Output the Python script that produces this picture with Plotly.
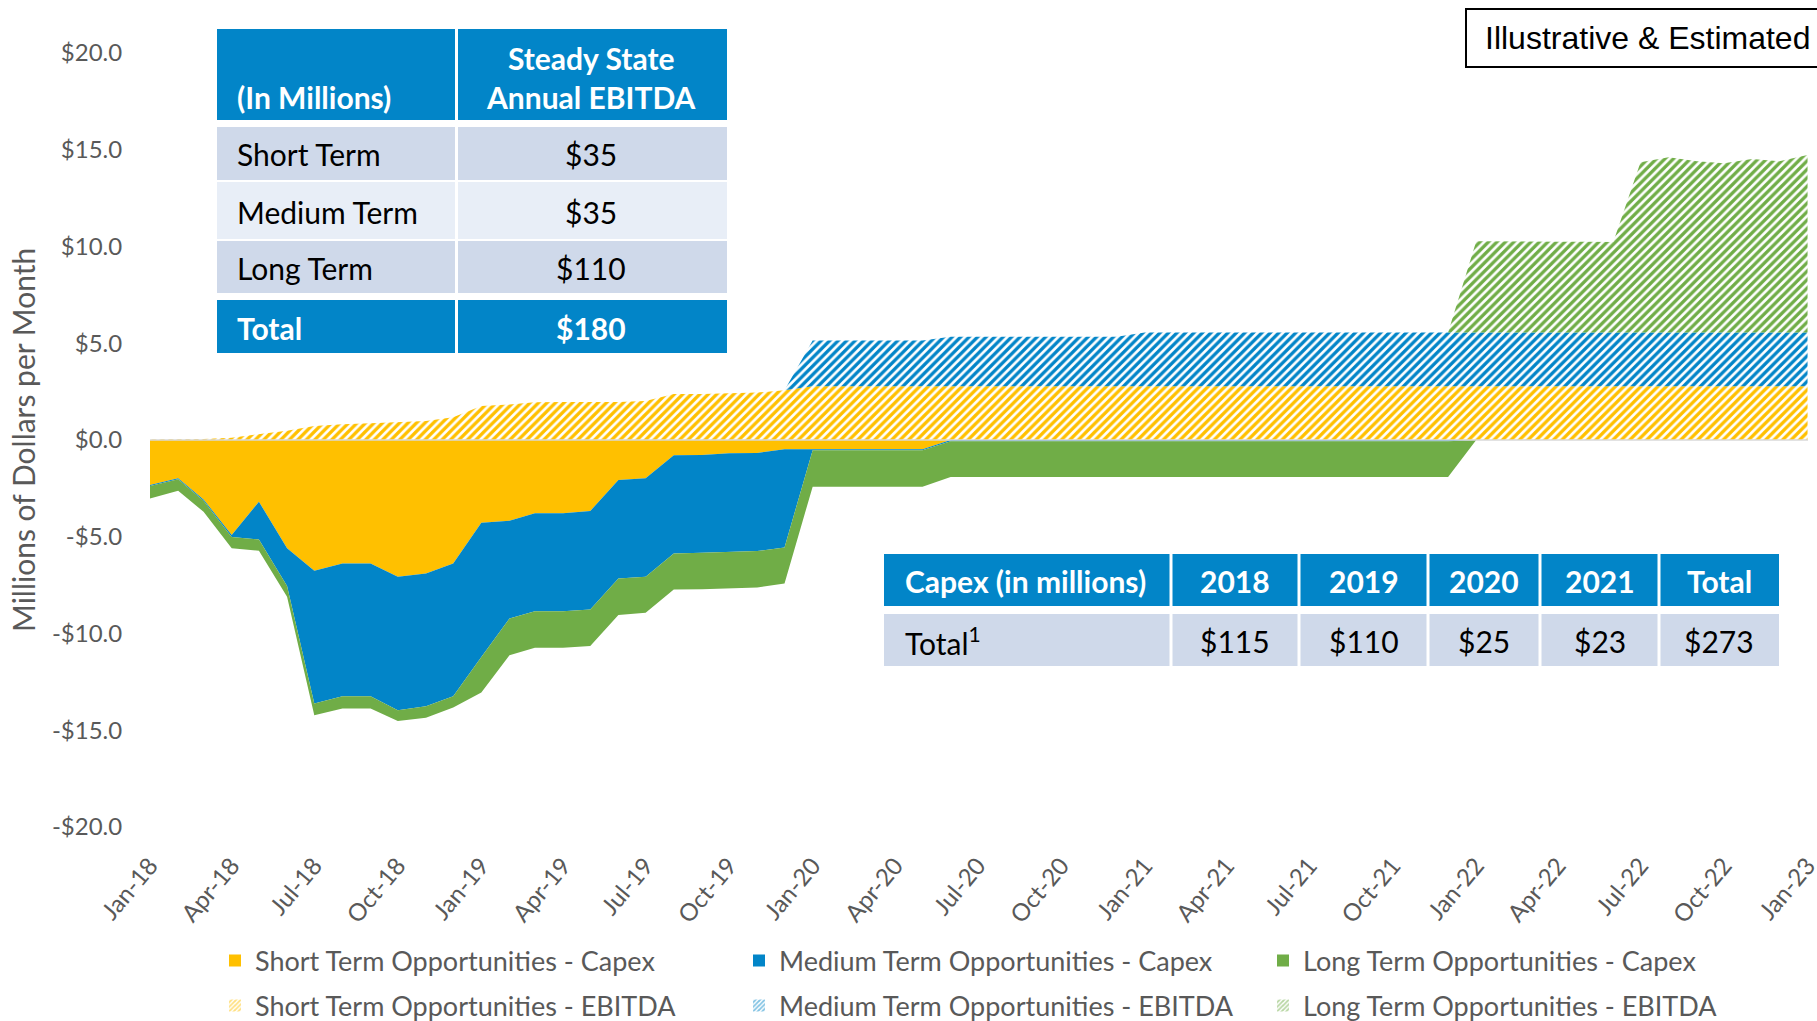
import plotly.graph_objects as go
import pandas as pd

# ---------------- data ----------------
months = pd.date_range("2018-01-01", "2023-01-01", freq="MS")  # 61 monthly points

short_capex = [2.33, 1.98, 3.07, 4.91, 3.19, 5.60, 6.76, 6.38, 6.38, 7.07, 6.90, 6.38,
               4.28, 4.17, 3.79, 3.78, 3.67, 2.07, 1.98, 0.79, 0.78, 0.69, 0.67, 0.48,
               0.48, 0.48, 0.48, 0.48, 0.48, 0.00, 0.00, 0.00, 0.00, 0.00, 0.00, 0.00,
               0.00, 0.00, 0.00, 0.00, 0.00, 0.00, 0.00, 0.00, 0.00, 0.00, 0.00, 0.00,
               0.00, 0.00, 0.00, 0.00, 0.00, 0.00, 0.00, 0.00, 0.00, 0.00, 0.00, 0.00, 0.00]
medium_capex = [0.05, 0.05, 0.07, 0.10, 1.95, 1.95, 6.86, 6.86, 6.86, 6.90, 6.86, 6.86,
                6.93, 5.06, 5.06, 5.07, 5.09, 5.09, 5.09, 5.07, 5.05, 5.09, 5.07, 5.07,
                0.05, 0.05, 0.05, 0.05, 0.05, 0.07, 0.07, 0.07, 0.07, 0.07, 0.07, 0.07,
                0.07, 0.07, 0.07, 0.07, 0.07, 0.07, 0.07, 0.07, 0.07, 0.07, 0.07, 0.07,
                0.00, 0.00, 0.00, 0.00, 0.00, 0.00, 0.00, 0.00, 0.00, 0.00, 0.00, 0.00, 0.00]
long_capex = [0.64, 0.59, 0.57, 0.59, 0.58, 0.55, 0.61, 0.64, 0.64, 0.55, 0.59, 0.59,
              1.84, 1.89, 1.89, 1.89, 1.88, 1.89, 1.86, 1.86, 1.88, 1.88, 1.88, 1.86,
              1.88, 1.88, 1.88, 1.88, 1.88, 1.84, 1.84, 1.84, 1.84, 1.84, 1.84, 1.84,
              1.84, 1.84, 1.84, 1.84, 1.84, 1.84, 1.84, 1.84, 1.84, 1.84, 1.84, 1.84,
              0.00, 0.00, 0.00, 0.00, 0.00, 0.00, 0.00, 0.00, 0.00, 0.00, 0.00, 0.00, 0.00]

short_ebitda = [0.03, 0.03, 0.05, 0.12, 0.31, 0.48, 0.72, 0.81, 0.86, 0.91, 0.98, 1.17,
                1.76, 1.84, 1.95, 1.97, 1.97, 1.97, 2.02, 2.38, 2.38, 2.40, 2.45, 2.57,
                2.78, 2.78, 2.78, 2.78, 2.78, 2.78, 2.78, 2.78, 2.78, 2.78, 2.78, 2.78,
                2.78, 2.78, 2.78, 2.78, 2.78, 2.78, 2.78, 2.78, 2.78, 2.78, 2.78, 2.78,
                2.78, 2.78, 2.78, 2.78, 2.78, 2.78, 2.78, 2.78, 2.78, 2.78, 2.78, 2.78, 2.78]
medium_ebitda = [0.00, 0.00, 0.00, 0.00, 0.00, 0.00, 0.00, 0.00, 0.00, 0.00, 0.00, 0.00,
                 0.00, 0.00, 0.00, 0.00, 0.00, 0.00, 0.00, 0.00, 0.00, 0.00, 0.00, 0.00,
                 2.36, 2.36, 2.36, 2.36, 2.36, 2.56, 2.56, 2.56, 2.56, 2.56, 2.56, 2.56,
                 2.77, 2.77, 2.77, 2.77, 2.77, 2.77, 2.77, 2.77, 2.77, 2.77, 2.77, 2.77,
                 2.77, 2.77, 2.77, 2.77, 2.77, 2.77, 2.77, 2.77, 2.77, 2.77, 2.77, 2.77, 2.77]
long_ebitda = [0.00] * 48 + [4.72, 4.70, 4.70, 4.70, 4.70, 4.68,
                             8.80, 9.06, 8.85, 8.75, 8.97, 8.85, 9.18]

series_names = ["Short Term Opportunities", "Medium Term Opportunities", "Long Term Opportunities"]
series_colors = ["#FFC000", "#0285C8", "#70AD47"]

y_tickvals = [-20, -15, -10, -5, 0, 5, 10, 15, 20]
y_ticktext = ["-$20.0", "-$15.0", "-$10.0", "-$5.0", "$0.0", "$5.0", "$10.0", "$15.0", "$20.0"]

# steady-state table
t1_header = ["(In Millions)", "Steady State<br>Annual EBITDA"]
t1_labels = ["Short Term", "Medium Term", "Long Term", "Total"]
t1_values = ["$35", "$35", "$110", "$180"]

# capex table
t2_header = ["Capex (in millions)", "2018", "2019", "2020", "2021", "Total"]
t2_row = ["Total<sup>1</sup>", "$115", "$110", "$25", "$23", "$273"]

badge_text = "Illustrative & Estimated"
y_title = "Millions of Dollars per Month"

# ---------------- layout geometry (pixels) ----------------
W, H = 1817, 1021
ML, MR, MT, MB = 150, 9, 53, 194
PW, PH = W - ML - MR, H - MT - MB


def px(xp):
    return (xp - ML) / PW


def py(yp):
    return 1 - (yp - MT) / PH


FONT = "Lato, 'Open Sans', sans-serif"
GREY = "#595959"
BLUE_T = "#0285C8"
ROW_A = "#CFD9EA"
ROW_B = "#E8EEF7"
TFS = 30

fig = go.Figure()

capex_sets = [short_capex, medium_capex, long_capex]
ebitda_sets = [short_ebitda, medium_ebitda, long_ebitda]

for name, col, vals in zip(series_names, series_colors, capex_sets):
    fig.add_trace(go.Scatter(
        x=months, y=[-v for v in vals], mode="lines", stackgroup="capex",
        line=dict(width=0, color=col), fillcolor=col, showlegend=False,
        name=name + " - Capex", hoverinfo="skip"))

for name, col, vals in zip(series_names, series_colors, ebitda_sets):
    fig.add_trace(go.Scatter(
        x=months, y=vals, mode="lines", stackgroup="ebitda",
        line=dict(width=0, color=col), fillcolor="white",
        fillpattern=dict(shape="/", fgcolor=col, bgcolor="white", size=6, solidity=0.55,
                         fillmode="replace"),
        showlegend=False, name=name + " - EBITDA", hoverinfo="skip"))

# legend entries
for name, col in zip(series_names, series_colors):
    fig.add_trace(go.Bar(x=[None], y=[None], name=name + " - Capex",
                         marker=dict(color=col, line=dict(width=0)), legend="legend"))
for name, col in zip(series_names, series_colors):
    fig.add_trace(go.Bar(x=[None], y=[None], name=name + " - EBITDA",
                         marker=dict(color="white", line=dict(width=0),
                                     pattern=dict(shape="/", fgcolor=col, bgcolor="white",
                                                  size=4, solidity=0.55)),
                         legend="legend2"))

shapes = []
annotations = []


def cell(x0, x1, y0, y1, color):
    shapes.append(dict(type="rect", xref="paper", yref="paper", x0=px(x0), x1=px(x1),
                       y0=py(y1), y1=py(y0), fillcolor=color, line=dict(width=0),
                       layer="above"))


def text(x, y, s, size=TFS, color="black", bold=False, xanchor="center"):
    annotations.append(dict(xref="paper", yref="paper", x=px(x), y=py(y),
                            text=("<b>%s</b>" % s) if bold else s, showarrow=False,
                            xanchor=xanchor, yanchor="middle",
                            font=dict(family=FONT, size=size, color=color)))


# steady-state table
c_edges = [(217, 455), (458, 727)]
r_edges = [(29, 120), (127, 180), (182, 239), (241, 293), (300, 353)]
cell(*c_edges[0], *r_edges[0], BLUE_T)
cell(*c_edges[1], *r_edges[0], BLUE_T)
text(235, 97, t1_header[0], color="white", bold=True, xanchor="left")
text(591, 77, t1_header[1], color="white", bold=True)
row_cols = [ROW_A, ROW_B, ROW_A, BLUE_T]
for i, (lab, val) in enumerate(zip(t1_labels, t1_values)):
    y0, y1 = r_edges[i + 1]
    cell(*c_edges[0], y0, y1, row_cols[i])
    cell(*c_edges[1], y0, y1, row_cols[i])
    last = i == len(t1_labels) - 1
    tc = "white" if last else "black"
    text(235, (y0 + y1) / 2 + 1, lab, color=tc, bold=last, xanchor="left")
    text(591, (y0 + y1) / 2 + 1, val, color=tc, bold=last)

# capex table
xe = [884, 1171, 1299, 1428, 1540, 1659, 1779]
hy, ry = (554, 606), (614, 666)
for j in range(len(t2_header)):
    x0 = xe[j] + (0 if j == 0 else 1.5)
    x1 = xe[j + 1] - (0 if j == len(t2_header) - 1 else 1.5)
    cell(x0, x1, *hy, BLUE_T)
    cell(x0, x1, *ry, ROW_A)
    if j == 0:
        text(903, 581, t2_header[j], color="white", bold=True, xanchor="left")
        text(903, 641, t2_row[j], color="black", xanchor="left")
    else:
        cx = (xe[j] + xe[j + 1]) / 2
        text(cx, 581, t2_header[j], color="white", bold=True)
        text(cx, 641, t2_row[j], color="black")

# badge
shapes.append(dict(type="rect", xref="paper", yref="paper", x0=px(1466), x1=px(1830),
                   y0=py(67), y1=py(9), fillcolor="white", line=dict(color="black", width=2),
                   layer="above"))
annotations.append(dict(xref="paper", yref="paper", x=px(1483), y=py(38), text=badge_text,
                        showarrow=False, xanchor="left", yanchor="middle",
                        font=dict(family="Liberation Sans, Arial", size=32, color="black")))

# y-axis title
annotations.append(dict(xref="paper", yref="paper", x=px(23), y=0.5, text=y_title,
                        showarrow=False, textangle=-90, xanchor="center", yanchor="middle",
                        font=dict(family=FONT, size=30, color=GREY)))

# zero line
shapes.append(dict(type="line", xref="paper", yref="y", x0=0, x1=1, y0=0, y1=0,
                   line=dict(color="#D9D9D9", width=1.5), layer="above"))

legend_common = dict(orientation="h", xanchor="left", yanchor="middle", yref="container",
                     font=dict(family=FONT, size=27, color=GREY),
                     bgcolor="rgba(0,0,0,0)", entrywidth=479, entrywidthmode="pixels",
                     itemwidth=30, traceorder="normal")

fig.update_layout(
    width=W, height=H, margin=dict(l=ML, r=MR, t=MT, b=MB, autoexpand=False),
    paper_bgcolor="white", plot_bgcolor="white",
    showlegend=True,
    legend=dict(x=px(215), y=1 - 961 / H, **legend_common),
    legend2=dict(x=px(215), y=1 - 1006 / H, **legend_common),
    xaxis=dict(type="date", range=["2018-01-01", "2023-01-01 12:00"], tick0="2018-01-01",
               dtick="M3", tickformat="%b-%y", tickangle=-50, showgrid=False,
               zeroline=False, showline=False, ticks="outside", ticklen=14,
               tickcolor="rgba(0,0,0,0)", automargin=False, ticklabeloverflow="allow",
               tickfont=dict(family=FONT, size=24, color=GREY)),
    yaxis=dict(range=[-20, 20], tickvals=y_tickvals, ticktext=y_ticktext, showgrid=False,
               zeroline=False, showline=False, ticks="outside", ticklen=22,
               tickcolor="rgba(0,0,0,0)", automargin=False,
               tickfont=dict(family=FONT, size=24, color=GREY)),
    shapes=shapes, annotations=annotations,
    barmode="overlay",
)

fig.write_html("out.html", config={"displayModeBar": False},
               post_script="document.body.style.margin='0';document.body.style.overflow='hidden';")
